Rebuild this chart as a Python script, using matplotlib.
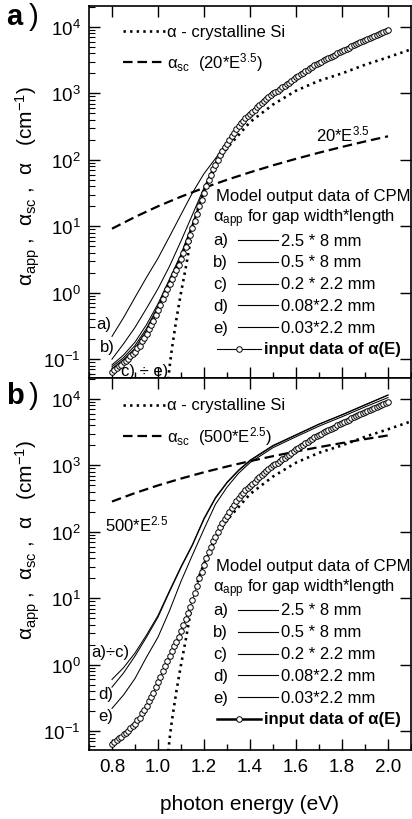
import matplotlib.pyplot as plt
from matplotlib.lines import Line2D
from matplotlib.ticker import LogLocator, MultipleLocator, NullFormatter, FixedLocator, FixedFormatter

plt.rcParams['font.family'] = ['Liberation Sans', 'DejaVu Sans']
plt.rcParams['mathtext.fontset'] = 'custom'
plt.rcParams['mathtext.rm'] = 'Liberation Sans'
plt.rcParams['mathtext.it'] = 'Liberation Sans:italic'
plt.rcParams['mathtext.bf'] = 'Liberation Sans:bold'

W, H = 412, 820

# --- datos ---
# datos de entrada alpha(E) (circulos), iguales en ambos paneles
E_input = [0.80, 0.81, 0.82, 0.83, 0.84, 0.85, 0.86, 0.87, 0.88, 0.89,
           0.90, 0.91, 0.92, 0.93, 0.94, 0.95, 0.96, 0.97, 0.98, 0.99,
           1.00, 1.01, 1.02, 1.03, 1.04, 1.05, 1.06, 1.07, 1.08, 1.09,
           1.10, 1.11, 1.12, 1.13, 1.14, 1.15, 1.16, 1.17, 1.18, 1.19,
           1.20, 1.21, 1.22, 1.23, 1.24, 1.25, 1.26, 1.27, 1.28, 1.29,
           1.30, 1.31, 1.32, 1.33, 1.34, 1.35, 1.36, 1.37, 1.38, 1.39,
           1.40, 1.41, 1.42, 1.43, 1.44, 1.45, 1.46, 1.47, 1.48, 1.49,
           1.50, 1.51, 1.52, 1.53, 1.54, 1.55, 1.56, 1.57, 1.58, 1.59,
           1.60, 1.61, 1.62, 1.63, 1.64, 1.65, 1.66, 1.67, 1.68, 1.69,
           1.70, 1.71, 1.72, 1.73, 1.74, 1.75, 1.76, 1.77, 1.78, 1.79,
           1.80, 1.81, 1.82, 1.83, 1.84, 1.85, 1.86, 1.87, 1.88, 1.89,
           1.90, 1.91, 1.92, 1.93, 1.94, 1.95, 1.96, 1.97, 1.98, 1.99, 2.00]
alpha_input = [0.065, 0.069, 0.073, 0.078, 0.083, 0.089, 0.095, 0.102, 0.11, 0.12,
               0.13, 0.145, 0.16, 0.185, 0.21, 0.24, 0.28, 0.325, 0.38, 0.46,
               0.55, 0.66, 0.80, 0.96, 1.15, 1.35, 1.6, 1.9, 2.2, 2.65,
               3.2, 3.9, 4.8, 6.0, 7.5, 9.5, 12, 15.5, 20, 25,
               32, 40, 50, 60, 72, 85, 100, 117, 135, 155,
               175, 200, 225, 255, 290, 325, 360, 390, 420, 455,
               490, 530, 570, 615, 660, 710, 760, 820, 880, 940,
               1000, 1050, 1100, 1165, 1230, 1300, 1380, 1460, 1550, 1650,
               1750, 1850, 1950, 2050, 2150, 2270, 2400, 2520, 2650, 2770,
               2900, 3020, 3150, 3270, 3400, 3550, 3700, 3850, 4000, 4170,
               4350, 4520, 4700, 4900, 5100, 5300, 5500, 5720, 5950, 6170,
               6400, 6650, 6900, 7150, 7400, 7650, 7900, 8150, 8400, 8700, 9000]

# silicio cristalino (punteado)
E_csi = [1.045, 1.05, 1.06, 1.08, 1.10, 1.12, 1.15, 1.18, 1.20, 1.25,
         1.30, 1.40, 1.50, 1.60, 1.70, 1.80, 1.90, 2.00, 2.10]
alpha_csi = [0.05, 0.075, 0.14, 0.4, 1.0, 2.3, 9, 22, 33, 80,
             150, 370, 680, 1100, 1550, 2000, 2700, 3500, 4600]

# alpha_sc (discontinuo)
E_sc = [0.8, 0.9, 1.0, 1.1, 1.2, 1.3, 1.4, 1.5, 1.6, 1.7, 1.8, 1.9, 2.0]
alpha_sc_a = [9.2, 13.8, 20, 27.9, 37.9, 50.1, 64.9, 82.7, 103.6, 128.1, 156.5, 189.1, 226.3]
alpha_sc_b = [286, 384, 500, 634, 789, 963, 1160, 1378, 1619, 1884, 2173, 2488, 2828]

# salidas del modelo CPM
E_mod = [0.80, 0.85, 0.90, 0.95, 1.00, 1.05, 1.10, 1.15, 1.20, 1.25,
         1.30, 1.35, 1.40, 1.50, 1.60, 1.70, 1.80, 1.90, 2.00]
mod_a_top = [0.22, 0.42, 0.85, 1.7, 3.3, 7, 15, 32, 62, 105,
             185, 330, 500, 1020, 1780, 2950, 4400, 6500, 9100]
mod_b_top = [0.10, 0.17, 0.30, 0.58, 1.15, 2.5, 6, 15, 38, 92,
             180, 325, 495, 1010, 1760, 2920, 4380, 6450, 9050]
mod_c_top = [0.082, 0.115, 0.18, 0.33, 0.68, 1.6, 3.8, 11, 34, 88,
             178, 322, 492, 1005, 1755, 2910, 4370, 6430, 9030]
mod_d_top = [0.077, 0.105, 0.16, 0.29, 0.62, 1.5, 3.6, 10.5, 33, 87,
             177, 321, 491, 1003, 1753, 2905, 4360, 6420, 9020]
mod_e_top = [0.072, 0.098, 0.145, 0.27, 0.59, 1.45, 3.4, 10, 32.5, 86,
             176, 320, 490, 1001, 1751, 2902, 4355, 6410, 9010]
mod_ac_bot = [0.6, 0.9, 1.5, 2.8, 5.5, 13, 30, 65, 160, 330,
              560, 850, 1200, 2000, 2900, 4200, 5800, 8200, 11500]
mod_d_bot = [0.46, 0.75, 1.35, 2.6, 5.2, 12.5, 29, 63, 155, 320,
             545, 830, 1170, 1960, 2850, 4150, 5750, 8100, 11400]
mod_e_bot = [0.22, 0.35, 0.62, 1.3, 2.6, 6.5, 18, 45, 110, 260,
             470, 760, 1100, 1850, 2700, 3900, 5400, 7600, 10500]

legend_rows = ['a)', 'b)', 'c)', 'd)', 'e)']
legend_sizes = ['2.5 * 8 mm', '0.5 * 8 mm', '0.2 * 2.2 mm', '0.08*2.2 mm', '0.03*2.2 mm']
xticks = [0.8, 1.0, 1.2, 1.4, 1.6, 1.8, 2.0]
ytick_vals = [0.1, 1, 10, 100, 1000, 10000]
ytick_lbls = [r'$10^{-1}$', r'$10^{0}$', r'$10^{1}$', r'$10^{2}$', r'$10^{3}$', r'$10^{4}$']

fig = plt.figure(figsize=(W / 100, H / 100), dpi=100)


def fx(x):
    return x / W


def fy(y):
    return 1 - y / H


def linea(x0, x1, y, **kw):
    fig.add_artist(Line2D([fx(x0), fx(x1)], [fy(y), fy(y)], transform=fig.transFigure, **kw))


def texto(x, y, s, **kw):
    kw.setdefault('fontsize', 12)
    fig.text(fx(x), fy(y), s, va='center', ha='left', **kw)


dash_kw = dict(color='black', lw=1.6, dashes=(4.3, 2.2))
dot_kw = dict(color='black', lw=1.9, dashes=(0.9, 1.6))
thin_kw = dict(color='black', lw=0.75)
circ_kw = dict(marker='o', ms=4.0, mfc='white', mec='black', mew=0.7)


def preparar(ax, xlabels):
    ax.set_yscale('log')
    ax.set_xlim(0.7, 2.1)
    ax.set_ylim(0.052, 2.07e4)
    ax.xaxis.set_major_locator(FixedLocator(xticks))
    ax.xaxis.set_minor_locator(MultipleLocator(0.1))
    ax.yaxis.set_major_locator(FixedLocator(ytick_vals))
    ax.yaxis.set_major_formatter(FixedFormatter(ytick_lbls))
    ax.yaxis.set_minor_locator(LogLocator(base=10, subs=range(2, 10)))
    ax.yaxis.set_minor_formatter(NullFormatter())
    ax.tick_params(which='major', direction='in', length=8, width=1.0, labelsize=13.5,
                   top=True, right=True, pad=6)
    ax.tick_params(which='minor', axis='x', direction='in', length=4, width=1.0,
                   top=False, bottom=True)
    ax.tick_params(which='minor', axis='y', direction='in', length=4, width=0.8,
                   left=True, right=False)
    if xlabels:
        ax.set_xticklabels(['0.8', '1.0', '1.2', '1.4', '1.6', '1.8', '2.0'])
    else:
        ax.set_xticklabels([])
    for s in ax.spines.values():
        s.set_linewidth(1.2)


ax1 = fig.add_axes([fx(89), fy(379), fx(411) - fx(89), fy(7) - fy(379)])
ax2 = fig.add_axes([fx(89), fy(751), fx(411) - fx(89), fy(379) - fy(751)])
preparar(ax1, False)
preparar(ax2, True)

# ---- panel a ----
ax1.plot(E_csi, alpha_csi, **dot_kw)
ax1.plot(E_sc, alpha_sc_a, **dash_kw)
for m in [mod_a_top, mod_b_top, mod_c_top, mod_d_top, mod_e_top]:
    ax1.plot(E_mod, m, **thin_kw)
ax1.plot(E_input, alpha_input, color='black', lw=0.6, **circ_kw)

# ---- panel b ----
ax2.plot(E_csi, alpha_csi, **dot_kw)
ax2.plot(E_sc, alpha_sc_b, **dash_kw)
for m in [mod_ac_bot, mod_d_bot, mod_e_bot]:
    ax2.plot(E_mod, m, **thin_kw)
ax2.plot(E_input, alpha_input, color='black', lw=0.6, **circ_kw)

# etiquetas de panel
fig.text(fx(6), fy(17), 'a', fontsize=21, fontweight='bold', va='center', ha='left')
fig.text(fx(29), fy(17), ')', fontsize=21, va='center', ha='left')
fig.text(fx(6), fy(396), 'b', fontsize=21, fontweight='bold', va='center', ha='left')
fig.text(fx(29), fy(396), ')', fontsize=21, va='center', ha='left')

ylab = r'$\mathrm{α}_{\mathrm{app}}$ ,  $\mathrm{α}_{\mathrm{sc}}$ ,  α   (cm$^{-1}$)'
fig.text(fx(28), fy(186), ylab, rotation=90, fontsize=15, va='center', ha='center')
fig.text(fx(28), fy(540), ylab, rotation=90, fontsize=15, va='center', ha='center')
fig.text(fx(250), fy(805), 'photon energy (eV)', fontsize=15, va='center', ha='center')


def leyenda(y0, formula, y_model, input_lw):
    linea(123, 165, y0, **dot_kw)
    texto(167, y0, 'α - crystalline Si')
    linea(123, 165, y0 + 31, **dash_kw)
    texto(167, y0 + 31, r'$\mathrm{α}_{\mathrm{sc}}$  ' + formula)
    texto(216, y_model, 'Model output data of CPM')
    texto(213, y_model + 22, r'$\mathrm{α}_{\mathrm{app}}$ for gap width*length')
    for i in range(5):
        yy = y_model + 44 + 21.8 * i
        texto(213, yy, legend_rows[i])
        linea(238, 278, yy, color='black', lw=0.8)
        texto(281, yy, legend_sizes[i])
    yy = y_model + 44 + 21.8 * 5
    linea(217, 261, yy, color='black', lw=input_lw)
    fig.add_artist(Line2D([fx(239)], [fy(yy)], transform=fig.transFigure, **circ_kw))
    texto(264, yy, 'input data of α(E)', fontweight='bold')


leyenda(32, r'(20*E$^{3.5}$)', 197, 0.8)
leyenda(406, r'(500*E$^{2.5}$)', 567, 1.8)

# anotaciones en las curvas
texto(316, 134, r'20*E$^{3.5}$')
texto(105, 524, r'500*E$^{2.5}$')
texto(96, 325, 'a)')
texto(100, 348, 'b)')
texto(121, 372, 'c) ÷ e)')
texto(91, 653, 'a)÷c)')
texto(98, 695, 'd)')
texto(98, 717, 'e)')

fig.savefig('out.png', dpi=100)
